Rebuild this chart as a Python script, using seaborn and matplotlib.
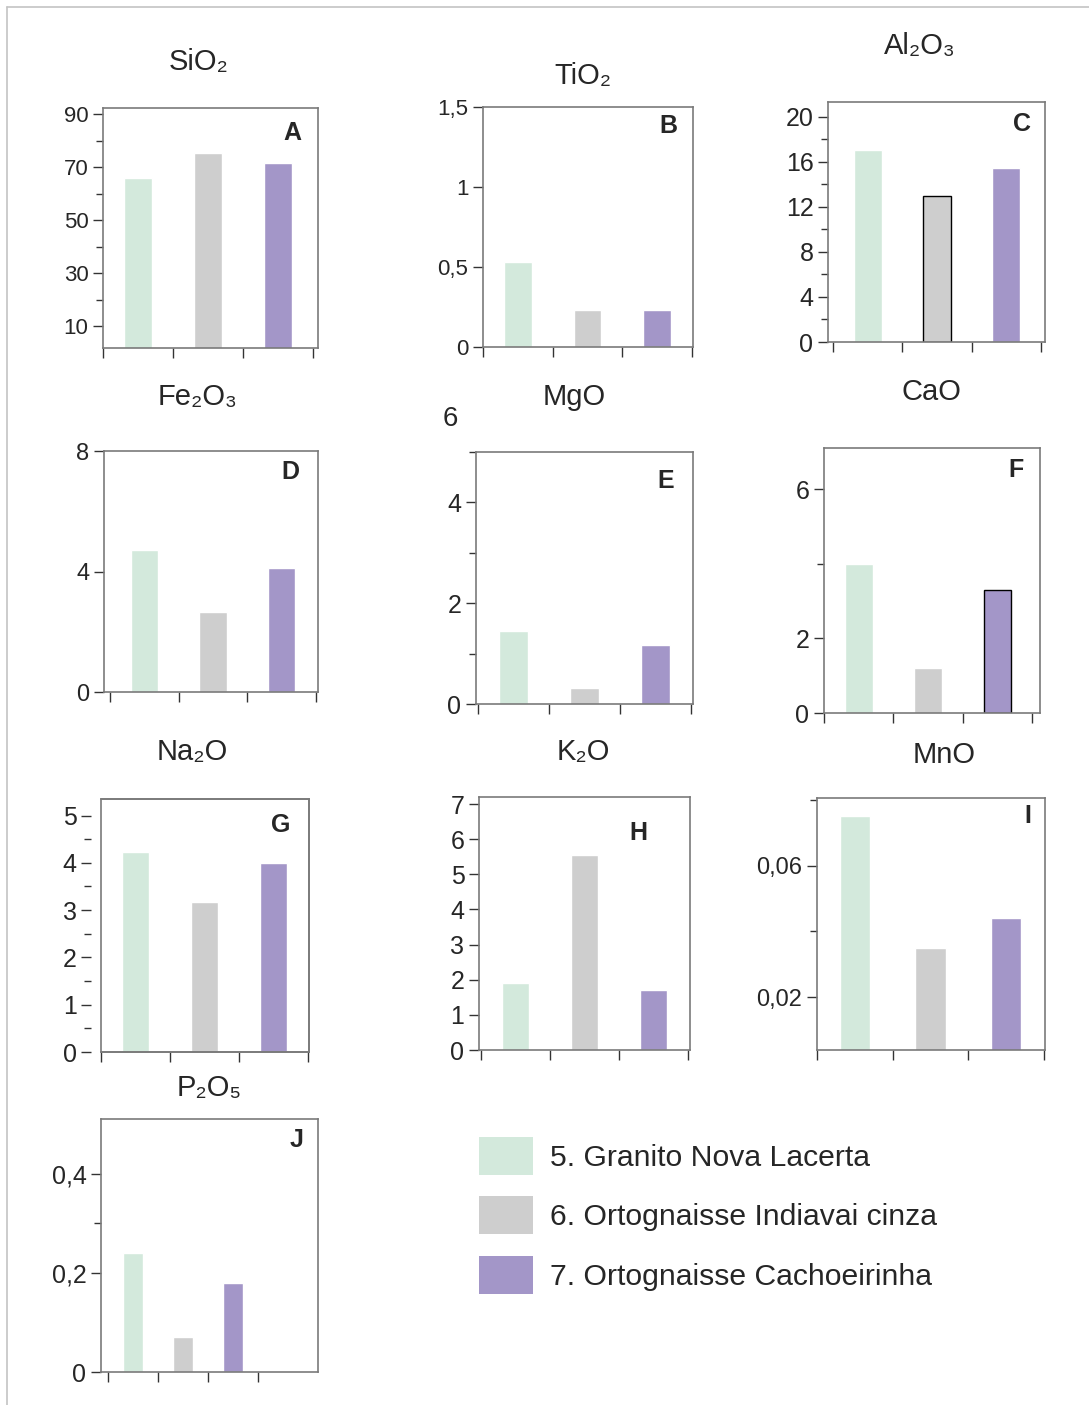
import matplotlib
matplotlib.use("Agg")
from matplotlib import pyplot as plt
from matplotlib.patches import Patch, Rectangle
from matplotlib.lines import Line2D
import matplotlib.transforms as mtransforms
import pandas as pd
import seaborn as sb

# --- data (wt %) ---
samples = ["5. Granito Nova Lacerta", "6. Ortognaisse Indiavai cinza", "7. Ortognaisse Cachoeirinha"]
colors = ["#d3e9dc", "#cecece", "#a396c8"]

oxides = ["SiO₂", "TiO₂", "Al₂O₃", "Fe₂O₃", "MgO", "CaO", "Na₂O", "K₂O", "MnO", "P₂O₅"]
letters = ["A", "B", "C", "D", "E", "F", "G", "H", "I", "J"]

sio2 = [65.8, 75.3, 71.5]
tio2 = [0.53, 0.23, 0.23]
al2o3 = [17.0, 13.0, 15.4]
fe2o3 = [4.7, 2.65, 4.1]
mgo = [1.45, 0.32, 1.17]
cao = [4.0, 1.2, 3.3]
na2o = [4.22, 3.17, 4.0]
k2o = [1.9, 5.55, 1.7]
mno = [0.075, 0.035, 0.044]
p2o5 = [0.24, 0.07, 0.18]
values = [sio2, tio2, al2o3, fe2o3, mgo, cao, na2o, k2o, mno, p2o5]

yticks = [[10, 30, 50, 70, 90], [0, 0.5, 1, 1.5], [0, 4, 8, 12, 16, 20], [0, 4, 8],
          [0, 2, 4], [0, 2, 6], [0, 1, 2, 3, 4, 5], [0, 1, 2, 3, 4, 5, 6, 7],
          [0.02, 0.06], [0, 0.2, 0.4]]
yminor = [[20, 40, 60, 80], [], [2, 6, 10, 14, 18], [], [1, 3, 5], [4],
          [0.5, 1.5, 2.5, 3.5, 4.5], [], [0.04, 0.08], [0.3]]
ylims = [(1.9, 92.3), (0, 1.5), (0, 21.3), (0, 8), (0, 5), (0, 7.1),
         (0, 5.35), (0, 7.2), (0.004, 0.0805), (0, 0.51)]

# --- layout in pixels of the 1089x1405 page ---
W, H = 1089, 1405
# axes box: left, top, right, bottom
boxes = [(103, 108, 318, 348), (483, 107, 693, 347), (828, 102, 1045, 342),
         (104, 451, 318, 692), (476, 452, 693, 704), (824, 448, 1040, 713),
         (101, 799, 309, 1052), (479, 797, 690, 1050), (817, 798, 1045, 1050),
         (101, 1119, 318, 1372)]
# pixel x of first and last category separator tick
sep = [(102, 313), (483, 692), (833, 1041), (110, 316), (478, 691), (821, 1032),
       (94, 308), (481, 688), (814, 1044), (108, 258)]
title_pos = [(199, 62), (583, 76), (920, 46), (198, 397), (574, 397), (931, 392),
             (192, 752), (583, 752), (944, 755), (209, 1088)]
letter_pos = [(292, 133), (668, 126), (1022, 124), (290, 472), (666, 481), (1016, 470),
              (281, 825), (638, 833), (1028, 816), (297, 1140)]
tick_size = [16, 16, 18, 17, 18, 18, 18, 18, 17, 18]

sb.set_style("ticks")
plt.rcParams["font.family"] = ["Liberation Sans", "DejaVu Sans"]
narrow = ["Liberation Sans Narrow", "Liberation Sans", "DejaVu Sans"]
spine_col = "#7a7a7a"


def fmt(v):
    return f"{v:g}".replace(".", ",")


fig = plt.figure(figsize=(W / 100, H / 100), dpi=100)

# page frame (top and left edge)
fig.add_artist(Line2D([7 / W, 1], [1 - 7 / H, 1 - 7 / H], color="#c4c4c4", lw=1.2))
fig.add_artist(Line2D([7 / W, 7 / W], [0, 1 - 7 / H], color="#c4c4c4", lw=1.2))

for i in range(10):
    l, t, r, b = boxes[i]
    ax = fig.add_axes([l / W, 1 - b / H, (r - l) / W, (b - t) / H])
    df = pd.DataFrame({"amostra": samples, "valor": values[i]})
    sb.barplot(data=df, x="amostra", y="valor", hue="amostra", palette=colors,
               width=0.4, legend=False, ax=ax, saturation=1)

    for s in ax.spines.values():
        s.set_visible(True)
        s.set_color(spine_col)
        s.set_linewidth(1.2)
    if i == 6:
        # Na2O: y ticks sit a little left of the box
        ax.spines["left"].set_position(("outward", 7))
        ax.spines["left"].set_visible(False)
        ax.add_patch(Rectangle((0, 0), 1, 1, transform=ax.transAxes, fill=False,
                               edgecolor=spine_col, lw=1.2, clip_on=False))

    t0, t3 = sep[i]
    unit = (t3 - t0) / 3
    ax.set_xlim(-0.5 + (l - t0) / unit, -0.5 + (r - t0) / unit)
    ax.set_xticks([-0.5, 0.5, 1.5, 2.5])
    ax.set_xticklabels([])
    ax.set_ylim(*ylims[i])
    ax.set_yticks(yticks[i])
    labels = [fmt(v) for v in yticks[i]]
    if i == 5:
        labels = ["0", "2", "6"]
    ax.set_yticklabels(labels, fontsize=tick_size[i])
    ax.set_yticks(yminor[i], minor=True)
    ax.set_xlabel("")
    ax.set_ylabel("")
    ax.tick_params(axis="both", which="major", direction="out", length=7, width=1, color="#333333")
    ax.tick_params(axis="y", which="minor", direction="out", length=5, width=1, color="#333333")

    fig.text(title_pos[i][0] / W, 1 - title_pos[i][1] / H, oxides[i], family=narrow,
             fontsize=21, ha="center", va="center")
    fig.text(letter_pos[i][0] / W, 1 - letter_pos[i][1] / H, letters[i],
             fontsize=18, fontweight="bold", ha="center", va="center")

    if i == 2:
        ax.patches[1].set_edgecolor("black")
        ax.patches[1].set_linewidth(1)
    if i == 5:
        ax.patches[2].set_edgecolor("black")
        ax.patches[2].set_linewidth(1)
    if i == 4:
        # stray "6" label above the MgO axis
        trans = mtransforms.blended_transform_factory(ax.transAxes, ax.transData)
        ax.text(-0.085, 5.65, "6", transform=trans, fontsize=20, ha="right",
                va="center", clip_on=False)

handles = [Patch(facecolor=c, edgecolor="none") for c in colors]
fig.legend(handles, samples, loc="upper left",
           bbox_to_anchor=(479 / W, 1 - 1137 / H), frameon=False, fontsize=21.7,
           borderpad=0, borderaxespad=0, handlelength=1.8, handleheight=1.55,
           labelspacing=0.72, handletextpad=0.55)

plt.savefig("out.png", dpi=100)
plt.close("all")
